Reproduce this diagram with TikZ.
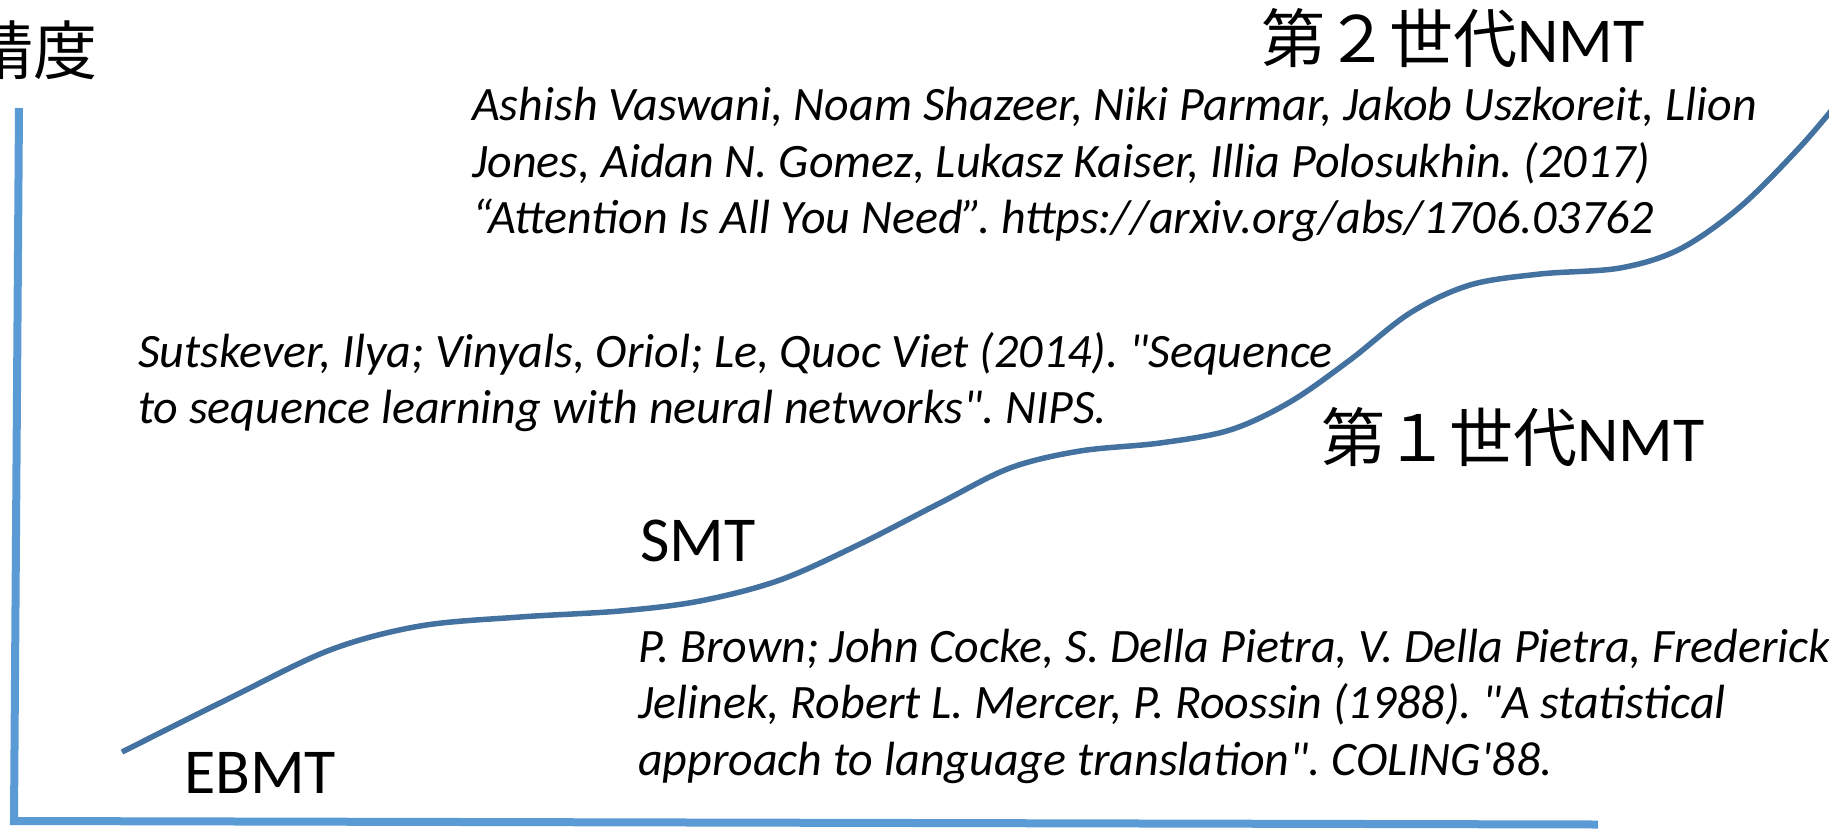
\documentclass[tikz,border=0pt]{standalone}
\usepackage{fontspec}
\setmainfont{Carlito}[Ligatures=TeXOff]
\newfontfamily\cjk{Noto Sans CJK JP}
\definecolor{axisblue}{RGB}{91,155,213}
\definecolor{curveblue}{RGB}{68,114,160}
\frenchspacing
\begin{document}
\begin{tikzpicture}[x=1pt,y=-1pt,
  axisline/.style={draw=axisblue,line width=8pt,line join=miter},
  trend/.style={draw=curveblue,line width=5.5pt},
  cite/.style={anchor=base west,inner sep=0pt,font=\fontsize{48}{56}\selectfont\itshape},
  era/.style={anchor=base west,inner sep=0pt,font=\fontsize{64}{77}\selectfont}]
\useasboundingbox (0,0) rectangle (1829,831);

% axes
\coordinate (ytop) at (19,108);
\coordinate (origin) at (14,821);
\coordinate (xend) at (1598,824.5);
\draw[axisline] (ytop) -- (origin) -- (xend);

% accuracy curve with three plateaus
\draw[trend] plot[smooth,tension=0.55] coordinates {
  (122,752) (230,698) (330,650) (420,626) (520,617) (620,611) (700,601)
  (780,580) (860,544) (940,503) (1010,468) (1080,451) (1160,443) (1230,430)
  (1290,402) (1350,360) (1410,313) (1470,285) (1540,274) (1620,268)
  (1680,249) (1740,207) (1800,147) (1840,100)};

% axis label
\node[era] (ylabel) at (-31,74) {\cjk 精度};

% stage labels
\node[era] (ebmt) at (184,793) {EBMT};
\node[era] (smt) at (640,561) {SMT};
\node[era] (nmt1) at (1321,461) {{\cjk 第１世代}NMT};
\node[era] (nmt2) at (1261,62) {{\cjk 第２世代}NMT};

% references
\node[cite] (v1) at (472,120) {Ashish Vaswani, Noam Shazeer, Niki Parmar, Jakob Uszkoreit, Llion};
\node[cite] (v2) at (472,177) {Jones, Aidan N. Gomez, Lukasz Kaiser, Illia Polosukhin. (2017)};
\node[cite] (v3) at (472,233) {“Attention Is All You Need”. https://arxiv.org/abs/1706.03762};

\node[cite] (s1) at (138,367) {Sutskever, Ilya; Vinyals, Oriol; Le, Quoc Viet (2014). "Sequence};
\node[cite] (s2) at (138,423) {to sequence learning with neural networks". NIPS.};

\node[cite] (b1) at (638,662) {P. Brown; John Cocke, S. Della Pietra, V. Della Pietra, Frederick};
\node[cite] (b2) at (638,718) {Jelinek, Robert L. Mercer, P. Roossin (1988). "A statistical};
\node[cite] (b3) at (638,775) {approach to language translation". COLING'88.};
\end{tikzpicture}
\end{document}
